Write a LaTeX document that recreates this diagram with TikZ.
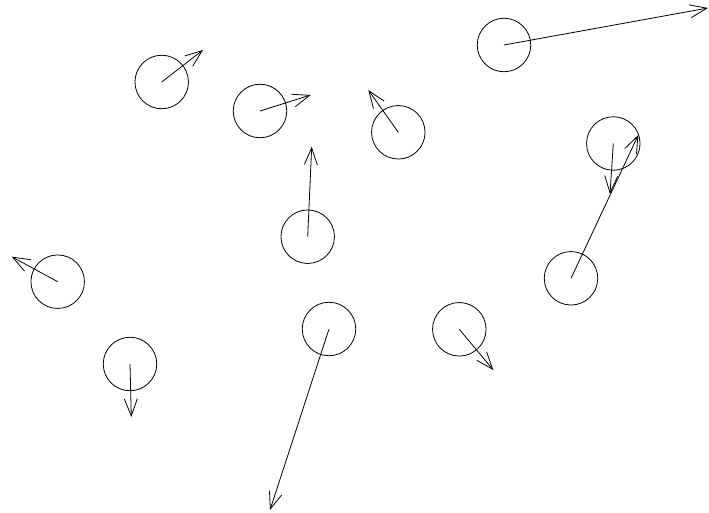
\documentclass[tikz,border=0pt]{standalone}
\usetikzlibrary{arrows.meta}
\begin{document}
\begin{tikzpicture}[x=1pt,y=-1pt,
  ball/.style={circle,draw,line width=0.8pt,minimum size=53.5pt,inner sep=0pt},
  vel/.style={line width=0.8pt,-{Straight Barb[length=17pt,width=13pt,line width=0.8pt]}}]
\useasboundingbox (0,0) rectangle (709,513);
\node[ball] (b1) at (504,45) {};
\node[ball] (b2) at (161.7,82) {};
\node[ball] (b3) at (260,111) {};
\node[ball] (b4) at (398.3,132.3) {};
\node[ball] (b5) at (613.3,143.5) {};
\node[ball] (b6) at (571,278.3) {};
\node[ball] (b7) at (307.7,236.7) {};
\node[ball] (b8) at (57.7,281.7) {};
\node[ball] (b9) at (130,364) {};
\node[ball] (b10) at (329,329) {};
\node[ball] (b11) at (459.3,329.3) {};
\coordinate (e1) at (708,8);
\coordinate (e2) at (203,50);
\coordinate (e3) at (310.7,95);
\coordinate (e4) at (368.3,90);
\coordinate (e5) at (610,194);
\coordinate (e6) at (638.3,135);
\coordinate (e7) at (311.7,146.7);
\coordinate (e8) at (11.7,256.7);
\coordinate (e9) at (131.3,417);
\coordinate (e10) at (270,510);
\coordinate (e11) at (493.3,370);
\foreach \i in {1,...,11} \draw[vel] (b\i.center) -- (e\i);
\end{tikzpicture}
\end{document}
